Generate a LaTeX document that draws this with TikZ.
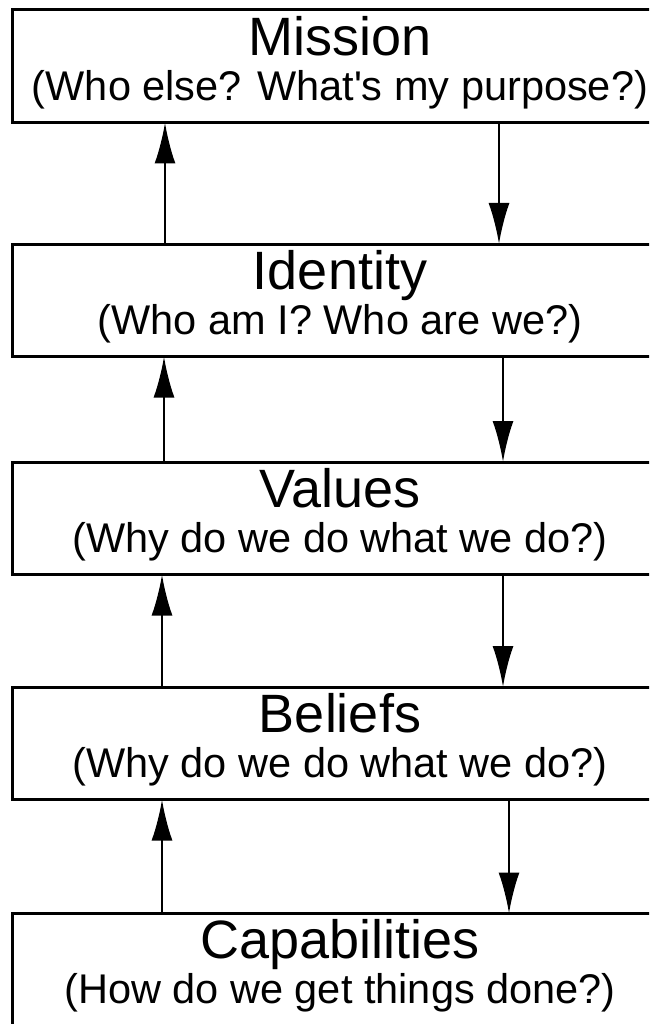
\documentclass[tikz,border=0pt]{standalone}
\usepackage{fontspec}
\setmainfont{Liberation Sans}
\usetikzlibrary{arrows.meta}
\newcommand{\leveltext}[2]{{\fontsize{54}{54}\selectfont #1}\\#2\rule[-16pt]{0pt}{16pt}}
\tikzset{
	level/.style={draw, line width=3pt, outer sep=0pt, inner sep=0pt, anchor=north west,
		minimum width=656pt, minimum height=112.5pt, align=center,
		font=\fontsize{41.5}{45}\selectfont},
	flow/.style={line width=2.5pt, -{Latex[length=41pt,width=21pt]}}
}
\begin{document}
\begin{tikzpicture}[x=1pt,y=1pt]
			%%%%% START %%%%%
			
			\path[use as bounding box, clip] (0, 0) rectangle (649, -1024);
			
			\node[level] (mission) at (12, -10) {\leveltext{Mission}{(Who else? What\textquotesingle s my purpose?)}};
			\node[level] (identity) at (12, -244) {\leveltext{Identity}{(Who am I? Who are we?)}};
			\node[level] (values) at (12, -462) {\leveltext{Values}{(Why do we do what we do?)}};
			\node[level] (beliefs) at (12, -687) {\leveltext{Beliefs}{(Why do we do what we do?)}};
			\node[level] (capabilities) at (12, -913.5) {\leveltext{Capabilities}{(How do we get things done?)}};
			
			\draw[flow] ([xshift=153pt]identity.north west) -- ([xshift=153pt]mission.south west);
			\draw[flow] ([xshift=487pt]mission.south west) -- ([xshift=487pt]identity.north west);
			
			\draw[flow] ([xshift=152pt]values.north west) -- ([xshift=152pt]identity.south west);
			\draw[flow] ([xshift=491pt]identity.south west) -- ([xshift=491pt]values.north west);
			
			\draw[flow] ([xshift=150pt]beliefs.north west) -- ([xshift=150pt]values.south west);
			\draw[flow] ([xshift=491pt]values.south west) -- ([xshift=491pt]beliefs.north west);
			
			\draw[flow] ([xshift=150pt]capabilities.north west) -- ([xshift=150pt]beliefs.south west);
			\draw[flow] ([xshift=497pt]beliefs.south west) -- ([xshift=497pt]capabilities.north west);
			
			%%%%% END %%%%%
\end{tikzpicture}
\end{document}
